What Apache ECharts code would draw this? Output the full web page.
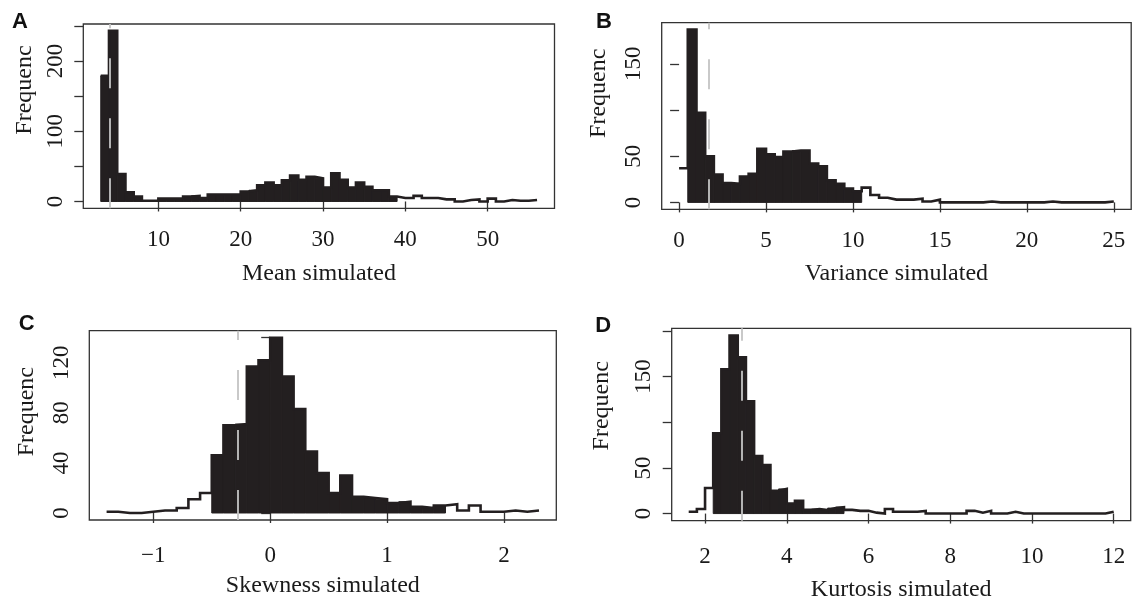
<!DOCTYPE html>
<html><head><meta charset="utf-8">
<script src="https://cdn.jsdelivr.net/npm/echarts@6/dist/echarts.min.js"></script>
<style>html,body{margin:0;padding:0;background:#fff;overflow:hidden}#c{width:1132px;height:599px}</style>
</head><body><div id="c"></div>
<script>
// ---------------- DATA ----------------
// Panel A: Mean simulated (bins of width 1 from 3 to 56)
const meanBinStart = 3, meanBinWidth = 1;
const meanCounts = [179,243,39,13,7,1,1,4,4,4,7,8,5,10,10,10,10,14,16,23,27,23,30,37,31,35,33,20,40,31,20,27,21,16,16,7,5,5,8,5,5,3,3,0,2,3,0,4,0,2,1,1,2];
const meanFilledBins = [0, 35];          // first/last filled bin index
const meanObserved = 4.1;
const meanXTicks = [10,20,30,40,50];
const meanYTicks = [0,50,100,150,200,250];
const meanYLabels = [0,100,200];

// Panel B: Variance simulated (bins of width 0.5 from 0 to 25)
const varBinStart = 0, varBinWidth = 0.5;
const varCounts = [37,187,97,50,30,21,20,28,31,58,52,49,55,56,56,42,39,24,20,15,12,16,8,5,3,3,3,4,1,3,0,0,0,0,0,1,0,0,0,0,0,0,1,0,0,0,0,0,0,1];
const varFilledBins = [1, 20];
const varObserved = 1.68;
const varXTicks = [0,5,10,15,20,25];
const varYTicks = [0,50,100,150];
const varYLabels = [0,50,150];

// Panel C: Skewness simulated (bins of width 0.1 from -1.4 to 2.3)
const skewBinStart = -1.4, skewBinWidth = 0.1;
const skewCounts = [1,0,0,1,2,2,4,11,16,46,70,71,117,122,140,109,83,49,32,16,30,13,12,11,8,9,5,4,6,7,2,6,1,1,2,1,2];
const skewFilledBins = [9, 28];
const skewObserved = -0.28;
const skewXTicks = [-1,0,1,2];
const skewYTicks = [0,20,40,60,80,100,120,140];
const skewYLabels = [0,40,80,120];

// Panel D: Kurtosis simulated (bins of width 0.2 from 1.6 to 12.0)
const kurtBinStart = 1.6, kurtBinWidth = 0.2;
const kurtCounts = [2,5,28,88,158,195,171,123,63,53,25,27,11,14,4,5,4,6,7,4,3,3,1,0,5,2,2,2,3,0,0,0,0,0,3,1,3,0,0,2,0,0,0,0,0,0,0,0,0,0,0,2];
const kurtFilledBins = [3, 18];
const kurtObserved = 2.9;
const kurtXTicks = [2,4,6,8,10,12];
const kurtYTicks = [0,50,100,150,200];
const kurtYLabels = [0,50,150];

const panelLetters = ['A','B','C','D'];
const xTitles = ['Mean simulated','Variance simulated','Skewness simulated','Kurtosis simulated'];
const yTitle = 'Frequenc';

// ---------------- LAYOUT / STYLE ----------------
const SERIF = '"Liberation Serif", "Times New Roman", serif';
const SANS = '"Liberation Sans", Arial, sans-serif';
const INK = '#231f20';
const TXT = '#1a1a1a';

const panels = [
  {start: meanBinStart, w: meanBinWidth, counts: meanCounts, filled: meanFilledBins, obs: meanObserved, xt: meanXTicks, yt: meanYTicks, yl: meanYLabels,
   grid: [83.3, 24, 471.2, 184.3], xMargin: 20, nameGap: 53, letter: [20, 21.5], ylab: [25, 90]},
  {start: varBinStart, w: varBinWidth, counts: varCounts, filled: varFilledBins, obs: varObserved, xt: varXTicks, yt: varYTicks, yl: varYLabels,
   grid: [661.7, 22.7, 469.5, 186.6], xMargin: 20, nameGap: 52, letter: [604, 22.3], ylab: [598.5, 93.3]},
  {start: skewBinStart, w: skewBinWidth, counts: skewCounts, filled: skewFilledBins, obs: skewObserved, xt: skewXTicks, yt: skewYTicks, yl: skewYLabels,
   grid: [89.3, 330.7, 467, 189.3], xMargin: 24, nameGap: 54, letter: [26.7, 324.3], ylab: [27, 411.7]},
  {start: kurtBinStart, w: kurtBinWidth, counts: kurtCounts, filled: kurtFilledBins, obs: kurtObserved, xt: kurtXTicks, yt: kurtYTicks, yl: kurtYLabels,
   grid: [671.7, 328.3, 459, 192.4], xMargin: 25, nameGap: 57, letter: [603.3, 325.8], ylab: [602, 405.8]}
];

const fmt = v => (v < 0 ? '\u2212' + Math.abs(v) : String(v));

const grids = [], xAxes = [], yAxes = [], series = [], graphic = [];
panels.forEach((p, i) => {
  const n = p.counts.length;
  const x0 = p.start, x1 = +(p.start + n * p.w).toFixed(6);
  const xr = x1 - x0;
  const ymax = Math.max.apply(null, p.counts);
  grids.push({left: p.grid[0], top: p.grid[1], width: p.grid[2], height: p.grid[3], show: true,
    borderColor: '#333', borderWidth: 1.3, backgroundColor: 'transparent', containLabel: false,
    outerBoundsMode: 'none'});
  xAxes.push({type: 'value', gridIndex: i, min: x0 - 0.04 * xr, max: x1 + 0.04 * xr,
    axisLine: {show: false}, splitLine: {show: false},
    axisTick: {show: true, customValues: p.xt, length: 10, lineStyle: {color: '#333', width: 1.3}},
    axisLabel: {customValues: p.xt, margin: p.xMargin, fontSize: 23, fontFamily: SERIF, color: TXT, formatter: fmt},
    name: xTitles[i], nameLocation: 'middle', nameGap: p.nameGap,
    nameTextStyle: {fontSize: 24, fontFamily: SERIF, color: TXT}});
  yAxes.push({type: 'value', gridIndex: i, min: -0.04 * ymax, max: 1.04 * ymax,
    axisLine: {show: false}, splitLine: {show: false},
    axisTick: {show: true, customValues: p.yt, length: 9, lineStyle: {color: '#333', width: 1.3}},
    axisLabel: {customValues: p.yl, rotate: 90, margin: 16, fontSize: 23, fontFamily: SERIF, color: TXT}});

  const bars = [];
  for (let k = p.filled[0]; k <= p.filled[1]; k++) {
    bars.push([p.start + k * p.w, p.start + (k + 1) * p.w, p.counts[k]]);
  }
  series.push({type: 'custom', xAxisIndex: i, yAxisIndex: i, z: 2, silent: true, clip: true,
    encode: {x: [0, 1], y: 2}, data: bars,
    renderItem: (params, api) => {
      const a = api.coord([api.value(0), api.value(2)]);
      const b = api.coord([api.value(1), 0]);
      return {type: 'rect', shape: {x: a[0], y: a[1], width: b[0] - a[0], height: b[1] - a[1]},
        style: {fill: INK, stroke: INK, lineWidth: 1}};
    }});

  const steps = p.counts.map((c, k) => [p.start + k * p.w, c]);
  steps.push([x1, p.counts[n - 1]]);
  series.push({type: 'line', xAxisIndex: i, yAxisIndex: i, z: 3, step: 'end', silent: true,
    symbol: 'none', data: steps, lineStyle: {color: INK, width: 2.6, join: 'miter'},
    markLine: {silent: true, symbol: ['none', 'none'], label: {show: false}, animation: false,
      lineStyle: {color: '#c4c4c4', width: 1.8, type: [30, 30], opacity: 1},
      emphasis: {disabled: true},
      data: [{xAxis: p.obs}]}});

  graphic.push({type: 'text', x: p.letter[0], y: p.letter[1], silent: true,
    style: {text: panelLetters[i], fontSize: 22, fontWeight: 'bold', fontFamily: SANS, fill: '#111', align: 'center', verticalAlign: 'middle'}});
  graphic.push({type: 'text', x: p.ylab[0], y: p.ylab[1], rotation: Math.PI / 2, silent: true,
    style: {text: yTitle, fontSize: 24, fontFamily: SERIF, fill: TXT, align: 'center', verticalAlign: 'middle'}});
});

const chart = echarts.init(document.getElementById('c'), null, {renderer: 'canvas'});
chart.setOption({animation: false, backgroundColor: '#fff', grid: grids, xAxis: xAxes, yAxis: yAxes, series: series, graphic: graphic});
</script>
</body></html>
